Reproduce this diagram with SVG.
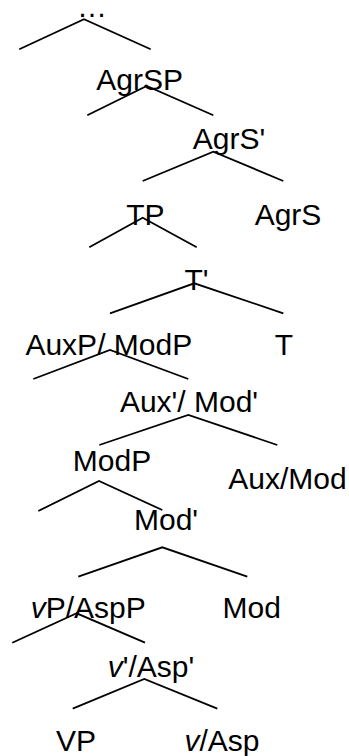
<svg xmlns="http://www.w3.org/2000/svg" width="349" height="756" viewBox="0 0 349 756">
  <style>
    text { font-family: "Liberation Sans", Arial, sans-serif; font-size: 30px; fill: #000; text-anchor: middle; }
    .branch { fill: none; stroke: #000; stroke-width: 1.8; stroke-linejoin: miter; }
    .it { font-style: italic; }
  </style>
  <rect width="349" height="756" fill="#fff"/>

  <!-- branches: each polyline is left daughter - mother - right daughter -->
  <g id="connectors">
    <polyline class="branch" points="19.3,49.3 84,19.3 150.7,49.3"/>
    <polyline class="branch" points="87.3,115.3 146.7,86 213.3,115.3"/>
    <polyline class="branch" points="142.7,181 213.3,151.7 283.3,181"/>
    <polyline class="branch" points="89.3,247.3 142.7,217.7 196.7,247.3"/>
    <polyline class="branch" points="110,313.3 194.3,283.3 283.3,313.3"/>
    <polyline class="branch" points="33.3,379 110,350 188.3,379"/>
    <polyline class="branch" points="99.3,445 188.3,415 277.3,445"/>
    <polyline class="branch" points="38.3,511 99,481 162.3,510"/>
    <polyline class="branch" points="78.3,576.7 162.3,547.3 247.3,576.7"/>
    <polyline class="branch" points="12.3,642.7 76.7,613.3 145,642.7"/>
    <polyline class="branch" points="72.7,708.7 144.3,679 217.3,708.7"/>
  </g>

  <g id="root"><text x="92" y="17">…</text></g>
  <g id="agrsp"><text x="139.7" y="90">AgrSP</text></g>
  <g id="agrs-bar"><text x="229" y="149">AgrS'</text></g>
  <g id="tp"><text x="145.3" y="225">TP</text></g>
  <g id="agrs"><text x="288" y="225">AgrS</text></g>
  <g id="t-bar"><text x="196.5" y="290">T'</text></g>
  <g id="auxp-modp"><text x="108.8" y="355">AuxP/ ModP</text></g>
  <g id="t"><text x="284" y="355">T</text></g>
  <g id="aux-bar-mod-bar"><text x="189" y="412">Aux'/ Mod'</text></g>
  <g id="modp"><text x="112" y="471">ModP</text></g>
  <g id="aux-mod"><text x="287.5" y="489">Aux/Mod</text></g>
  <g id="mod-bar"><text x="166" y="530">Mod'</text></g>
  <g id="vp-aspp"><text x="88.3" y="618"><tspan class="it">v</tspan>P/AspP</text></g>
  <g id="mod"><text x="251.7" y="618">Mod</text></g>
  <g id="v-bar-asp-bar"><text x="151" y="677"><tspan class="it">v</tspan>'/Asp'</text></g>
  <g id="vp"><text x="76" y="751">VP</text></g>
  <g id="v-asp"><text x="222" y="751"><tspan class="it">v</tspan>/Asp</text></g>
</svg>
